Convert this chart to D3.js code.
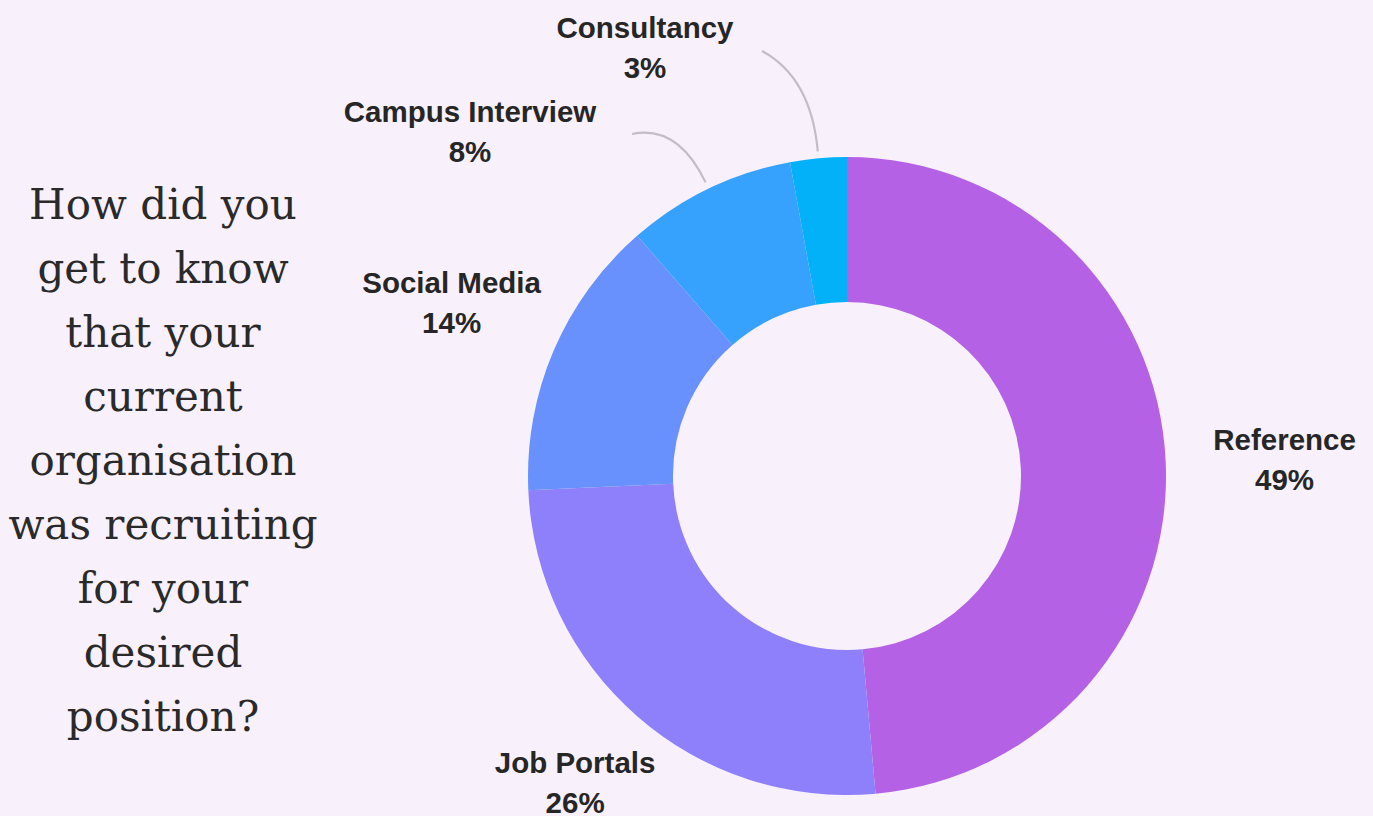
<!DOCTYPE html>
<html>
<head>
<meta charset="utf-8">
<script src="https://cdn.jsdelivr.net/npm/d3@7"></script>
<style>
  html, body { margin: 0; padding: 0; background: #f8f1fc; }
  svg { display: block; }
  .title { font-family: "DejaVu Serif", serif; font-size: 42px; fill: #2a2a2a; }
  .lbl { font-family: "Liberation Sans", Arial, sans-serif; font-weight: bold; font-size: 29.5px; fill: #262626; }
</style>
</head>
<body>
<svg id="chart" width="1373" height="816"></svg>
<script>
// survey answers (respondent counts) and the printed percentages
var categories = ["Reference", "Job Portals", "Social Media", "Campus Interview", "Consultancy"];
var counts = [17, 9, 5, 3, 1];
var pctLabels = ["49%", "26%", "14%", "8%", "3%"];
var colors = ["#b561e5", "#8e7ffa", "#6891fe", "#37a2fe", "#02b1f7"];
var titleLines = ["How did you", "get to know", "that your", "current", "organisation",
                  "was recruiting", "for your", "desired", "position?"];

var svg = d3.select("#chart"),
    cx = 847, cy = 476,
    outerR = 319, innerR = 174,
    labelR = 430;

// label nudges (dx, dy from the radial anchor)
var nudge = [[8, 3], [11, -17], [0, -4], [0, 0], [0, 0]];
var fixedAnchor = { 3: [470, 132], 4: [645, 48] };  // pulled away from the ring, with leader lines

var data = categories.map(function (c, i) {
  return { name: c, value: counts[i], pct: pctLabels[i], color: colors[i] };
});

var pie = d3.pie().sort(null).value(function (d) { return d.value; });
var arc = d3.arc().innerRadius(innerR).outerRadius(outerR);
var arcs = pie(data);

var g = svg.append("g").attr("transform", "translate(" + cx + "," + cy + ")");

g.selectAll("path.slice")
  .data(arcs)
  .enter().append("path")
  .attr("class", "slice")
  .attr("d", arc)
  .attr("fill", function (d) { return d.data.color; });

function mid(d) { return (d.startAngle + d.endAngle) / 2; }
function polar(a, r) { return [Math.sin(a) * r, -Math.cos(a) * r]; }

// leader lines for the thin slices
var leaders = [
  { i: 4, start: [762 - cx, 51 - cy], ctrlR: 400 },
  { i: 3, start: [632 - cx, 134 - cy], ctrlR: 390 }
];
leaders.forEach(function (l) {
  var a = mid(arcs[l.i]);
  var end = polar(a, 326), c = polar(a, l.ctrlR);
  var p = d3.path();
  p.moveTo(l.start[0], l.start[1]);
  p.quadraticCurveTo(c[0], c[1], end[0], end[1]);
  g.append("path")
    .attr("d", p.toString())
    .attr("fill", "none")
    .attr("stroke", "#c2bec4")
    .attr("stroke-width", 2.2);
});

// slice labels
var labels = g.selectAll("text.lbl")
  .data(arcs)
  .enter().append("text")
  .attr("class", "lbl")
  .attr("text-anchor", "middle")
  .attr("transform", function (d, i) {
    var p;
    if (fixedAnchor[i]) p = [fixedAnchor[i][0] - cx, fixedAnchor[i][1] - cy];
    else {
      p = polar(mid(d), labelR);
      p = [p[0] + nudge[i][0], p[1] + nudge[i][1]];
    }
    return "translate(" + p[0] + "," + (p[1] - 20) + ")";
  });
labels.append("tspan").attr("x", 0).attr("dy", "0.35em").text(function (d) { return d.data.name; });
labels.append("tspan").attr("x", 0).attr("dy", 40).text(function (d) { return d.data.pct; });

// question text on the left
svg.append("text")
  .attr("class", "title")
  .attr("text-anchor", "middle")
  .selectAll("tspan")
  .data(titleLines)
  .enter().append("tspan")
  .attr("x", 163)
  .attr("y", function (d, i) { return 219 + i * 64; })
  .text(function (d) { return d; });
</script>
</body>
</html>
